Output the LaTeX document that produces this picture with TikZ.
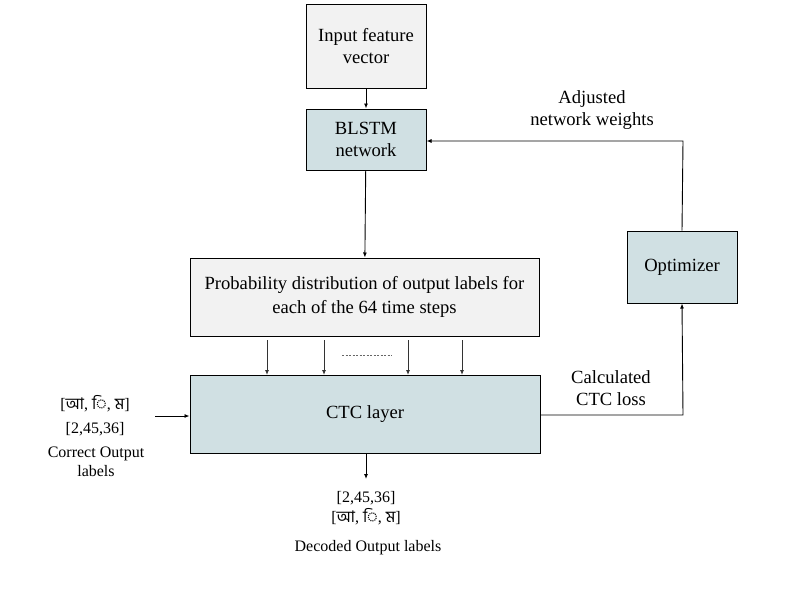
\documentclass[tikz,border=0pt]{standalone}
\usepackage{fontspec}
\setmainfont{Liberation Serif}
\newfontfamily\bnfont[Script=Bengali]{Hind Siliguri}
\usetikzlibrary{arrows.meta}
\begin{document}
\begin{tikzpicture}[x=1pt,y=-1pt,
  box/.style={draw,line width=1pt,align=center,font=\fontsize{18.6}{22.5}\selectfont,inner sep=0pt},
  grey/.style={box,fill=black!5},
  teal/.style={box,fill={rgb,255:red,208;green,224;blue,227}},
  arr/.style={line width=0.9pt,-{Latex[length=5pt,width=4pt]}},
  lbl/.style={align=center,font=\fontsize{18.6}{22}\selectfont},
  slbl/.style={align=center,font=\fontsize{16}{19}\selectfont}]
\useasboundingbox (0,0) rectangle (800,600);
\node[grey,minimum width=120pt,minimum height=84pt] (inp) at (366,46) {Input feature\\vector};
\node[teal,minimum width=120pt,minimum height=61pt] (blstm) at (366,139.5) {BLSTM\\network};
\node[grey,minimum width=349pt,minimum height=78pt] (prob) at (364.5,297) {Probability distribution of output labels for\\[2pt]each of the 64 time steps};
\node[teal,minimum width=350pt,minimum height=78pt] (ctc) at (365,414) {CTC layer};
\node[teal,minimum width=110pt,minimum height=72pt] (opt) at (682,267) {Optimizer};
\draw[arr] (inp) -- (blstm);
\draw[arr] (blstm) -- (prob);
\foreach \x in {267,324,408,462}{
  \draw[arr,black!80] (\x,340) -- (\x,375);
}
\draw[dashed,dash pattern=on 2pt off 1.5pt,black!60,line width=0.7pt] (342,355) -- (392,355);
\node[lbl] (adj) at (592,110) {Adjusted\\network weights};
\node[lbl] (loss) at (611,388) {Calculated\\CTC loss};
\coordinate (c1) at (683,415);
\coordinate (c2) at (683,141);
\draw[arr] (ctc.east |- c1) -- (c1) -- (opt.south);
\draw[arr] (opt.north) -- (c2) -- (blstm.east |- c2);
\node[slbl] (corr) at (95,416) {[{\bnfont আ}, {\bnfont ি}, {\bnfont ম}]\\[5pt][2,45,36]};
\node[slbl] (corrl) at (96,462) {Correct Output\\labels};
\coordinate (l1) at (155,416);
\draw[arr] (l1) -- (ctc.west |- l1);
\coordinate (d1) at (366,479);
\draw[arr] (ctc.south -| d1) -- (d1);
\node[slbl] (dec) at (366,508) {[2,45,36]\\[1pt][{\bnfont আ}, {\bnfont ি}, {\bnfont ম}]};
\node[slbl] (decl) at (368,548) {Decoded Output labels};
\end{tikzpicture}
\end{document}
